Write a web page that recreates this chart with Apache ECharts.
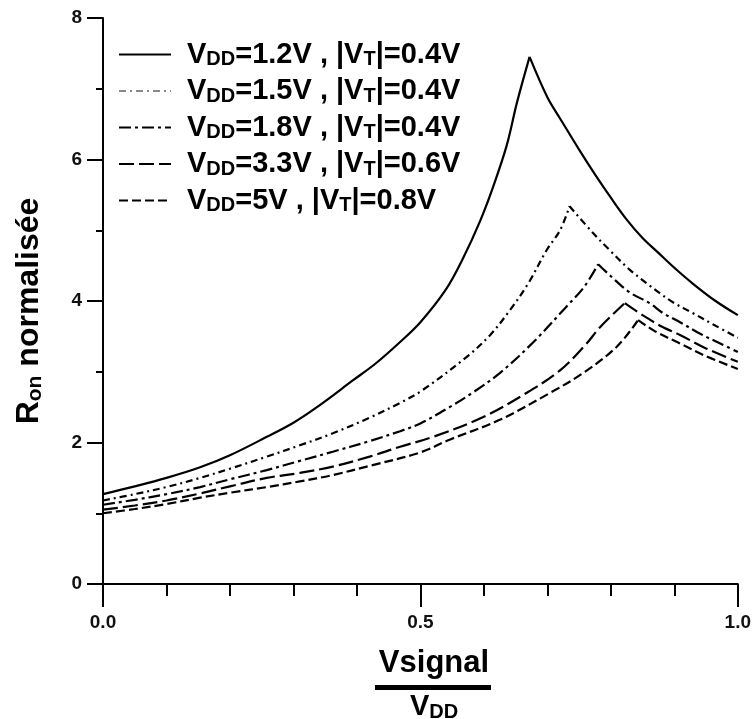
<!DOCTYPE html>
<html>
<head>
<meta charset="utf-8">
<title>Ron normalisée</title>
<script src="https://cdn.jsdelivr.net/npm/echarts/dist/echarts.min.js"></script>
<style>
  html, body { margin: 0; padding: 0; background: #fff; }
  #chart { width: 754px; height: 719px; }
</style>
</head>
<body>
<div id="chart"></div>
<script>
// 数据: [Vsignal/VDD, Ron normalisée]
var vddList = ['1.2', '1.5', '1.8', '3.3', '5'];
var vtList = ['0.4', '0.4', '0.4', '0.6', '0.8'];
var ron12 = [[0, 1.27], [0.05, 1.38], [0.1, 1.5], [0.153, 1.65], [0.2, 1.82], [0.258, 2.08], [0.3, 2.28],
  [0.337, 2.5], [0.394, 2.88], [0.43, 3.12], [0.468, 3.42], [0.5, 3.7], [0.54, 4.16], [0.567, 4.6],
  [0.594, 5.13], [0.614, 5.6], [0.636, 6.2], [0.652, 6.8], [0.672, 7.45], [0.7, 6.88], [0.72, 6.58],
  [0.75, 6.14], [0.775, 5.79], [0.8, 5.46], [0.825, 5.15], [0.85, 4.89], [0.875, 4.68], [0.9, 4.47],
  [0.93, 4.24], [0.965, 4.0], [1, 3.8]];
var ron15 = [[0, 1.18], [0.05, 1.27], [0.1, 1.37], [0.153, 1.5], [0.2, 1.63], [0.258, 1.8], [0.31, 1.96],
  [0.362, 2.13], [0.42, 2.35], [0.468, 2.56], [0.5, 2.72], [0.573, 3.21], [0.61, 3.52], [0.641, 3.87],
  [0.67, 4.25], [0.699, 4.72], [0.72, 5.0], [0.735, 5.34], [0.772, 4.96], [0.798, 4.72], [0.83, 4.44],
  [0.861, 4.22], [0.877, 4.11], [0.9, 3.97], [0.929, 3.83], [0.965, 3.65], [1, 3.48]];
var ron18 = [[0, 1.12], [0.05, 1.19], [0.1, 1.27], [0.153, 1.37], [0.2, 1.48], [0.258, 1.61], [0.31, 1.74],
  [0.362, 1.87], [0.42, 2.02], [0.468, 2.16], [0.5, 2.27], [0.546, 2.5], [0.585, 2.72], [0.625, 2.98],
  [0.677, 3.41], [0.73, 3.92], [0.758, 4.2], [0.78, 4.52], [0.8, 4.35], [0.83, 4.12], [0.861, 3.97],
  [0.882, 3.83], [0.909, 3.7], [0.94, 3.54], [0.97, 3.41], [1, 3.28]];
var ron33 = [[0, 1.05], [0.05, 1.11], [0.1, 1.18], [0.153, 1.28], [0.2, 1.38], [0.258, 1.5], [0.31, 1.57],
  [0.362, 1.66], [0.42, 1.8], [0.468, 1.94], [0.52, 2.08], [0.599, 2.36], [0.667, 2.7], [0.72, 3.02],
  [0.76, 3.38], [0.783, 3.63], [0.822, 3.97], [0.85, 3.8], [0.88, 3.64], [0.909, 3.52], [0.95, 3.33],
  [1, 3.14]];
var ron50 = [[0, 1.0], [0.05, 1.06], [0.1, 1.13], [0.153, 1.22], [0.2, 1.29], [0.258, 1.37], [0.31, 1.45],
  [0.362, 1.54], [0.42, 1.67], [0.5, 1.86], [0.546, 2.04], [0.625, 2.32], [0.704, 2.7], [0.756, 2.98],
  [0.809, 3.35], [0.843, 3.73], [0.87, 3.57], [0.909, 3.4], [0.95, 3.22], [1, 3.04]];

var curves = [ron12, ron15, ron18, ron33, ron50];
var dashes = ['solid', [7, 4, 2, 4], [12, 4, 3, 4], [15, 5], [9, 4]];
var names = vddList.map(function (v, i) {
  return 'VDD=' + v + 'V , |VT|=' + vtList[i] + 'V';
});

var FONT = 'Liberation Sans, Arial, sans-serif';

function drawChart () {
  // 1. 实例化对象
  var myChart = echarts.init(document.getElementById('chart'));

  // 每条曲线在峰值处分成两段，各自平滑，保持尖峰
  var series = [];
  curves.forEach(function (c, i) {
    var peak = 0;
    c.forEach(function (p, k) { if (p[1] > c[peak][1]) peak = k; });
    [c.slice(0, peak + 1), c.slice(peak)].forEach(function (part) {
      series.push({
        name: names[i],
        type: 'line',
        data: part,
        symbol: 'none',
        smooth: 0.35,
        itemStyle: { color: '#000' },
        lineStyle: { color: '#000', width: 2.2, type: dashes[i] }
      });
    });
  });

  // 2. 指定配置
  var option = {
    animation: false,
    backgroundColor: '#fff',
    grid: { left: 103, right: 16, top: 18, bottom: 135 },
    legend: {
      orient: 'vertical',
      left: 113,
      top: 35,
      itemWidth: 52,
      itemHeight: 14,
      itemGap: 7,
      itemStyle: { opacity: 0 },
      data: names.map(function (n, i) {
        return i === 1 ? { name: n, lineStyle: { color: '#888' } } : { name: n };
      }),
      formatter: function (name) {
        var i = names.indexOf(name);
        return '{m|V}{s|DD}{m|=' + vddList[i] + 'V , |V}{s|T}{m||=' + vtList[i] + 'V}';
      },
      textStyle: {
        padding: [0, 0, 0, 11],
        rich: {
          m: { fontSize: 29, fontWeight: 'bold', fontFamily: FONT, color: '#000', lineHeight: 30 },
          s: { fontSize: 20, fontWeight: 'bold', fontFamily: FONT, color: '#000', lineHeight: 20, verticalAlign: 'bottom' }
        }
      }
    },
    xAxis: {
      type: 'value',
      min: 0,
      max: 1,
      interval: 0.5,
      axisLine: { show: true, lineStyle: { color: '#000', width: 2 } },
      axisTick: { show: true, length: 23, lineStyle: { color: '#000', width: 2 } },
      minorTick: { show: true, splitNumber: 5, length: 12, lineStyle: { color: '#000', width: 2 } },
      splitLine: { show: false },
      axisLabel: {
        margin: 29,
        fontSize: 19,
        fontWeight: 'bold',
        fontFamily: 'Liberation Sans Narrow, Liberation Sans, sans-serif',
        color: '#111',
        formatter: function (v) { return v.toFixed(1); }
      }
    },
    yAxis: {
      type: 'value',
      min: 0,
      max: 8,
      interval: 2,
      axisLine: { show: true, lineStyle: { color: '#000', width: 2 } },
      axisTick: { show: true, length: 16, lineStyle: { color: '#000', width: 2 } },
      minorTick: { show: true, splitNumber: 2, length: 7, lineStyle: { color: '#000', width: 2 } },
      splitLine: { show: false },
      axisLabel: {
        margin: 21,
        fontSize: 19,
        fontWeight: 'bold',
        fontFamily: 'Liberation Sans Narrow, Liberation Sans, sans-serif',
        color: '#111'
      }
    },
    graphic: [
      {
        type: 'text',
        x: 29,
        y: 311,
        rotation: Math.PI / 2,
        style: {
          text: '{m|R}{s|on}{m| normalisée}',
          align: 'center',
          verticalAlign: 'middle',
          rich: {
            m: { fontSize: 32, fontWeight: 'bold', fontFamily: FONT, fill: '#000', lineHeight: 34 },
            s: { fontSize: 21, fontWeight: 'bold', fontFamily: FONT, fill: '#000', lineHeight: 22, verticalAlign: 'bottom' }
          }
        }
      },
      {
        type: 'text',
        x: 434,
        y: 663,
        style: {
          text: 'Vsignal',
          align: 'center',
          verticalAlign: 'middle',
          font: 'bold 31px ' + FONT,
          fill: '#000'
        }
      },
      {
        type: 'rect',
        shape: { x: 375, y: 685, width: 116, height: 5 },
        style: { fill: '#000' }
      },
      {
        type: 'text',
        x: 434,
        y: 707,
        style: {
          text: '{m|V}{s|DD}',
          align: 'center',
          verticalAlign: 'middle',
          rich: {
            m: { fontSize: 29, fontWeight: 'bold', fontFamily: FONT, fill: '#000', lineHeight: 30 },
            s: { fontSize: 20, fontWeight: 'bold', fontFamily: FONT, fill: '#000', lineHeight: 20, verticalAlign: 'bottom' }
          }
        }
      }
    ],
    series: series
  };

  // 3. 把配置给实例对象
  myChart.setOption(option);
  window.addEventListener('resize', function () {
    myChart.resize();
  });
}

drawChart();
</script>
</body>
</html>
